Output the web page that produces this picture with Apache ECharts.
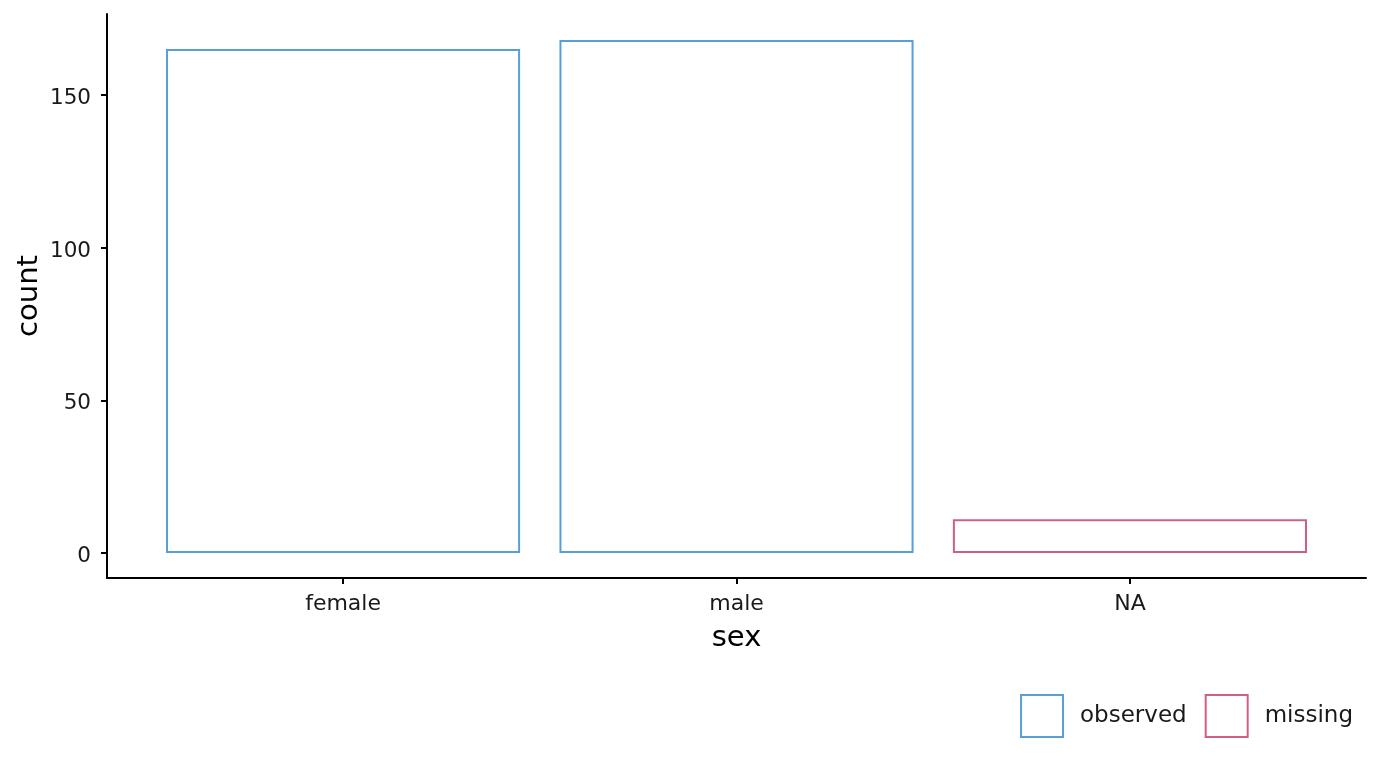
<!DOCTYPE html>
<html><head><meta charset="utf-8">
<script src="https://cdn.jsdelivr.net/npm/echarts@6/dist/echarts.min.js"></script>
<style>html,body{margin:0;padding:0;background:#fff}#c{width:1382px;height:768px}</style>
</head><body><div id="c"></div>
<script>
const categories = ['female', 'male', 'NA'];
const counts = [165, 168, 11];
const status = ['observed', 'observed', 'missing'];
const yTicks = [0, 50, 100, 150];
const seriesNames = ['observed', 'missing'];
const colors = { observed: '#569FD9', missing: '#CD6087' };
const FONT = 'DejaVu Sans';

const chart = echarts.init(document.getElementById('c'), null, { renderer: 'canvas' });

const series = seriesNames.map(name => ({
  name: name,
  type: 'bar',
  barWidth: '90%',
  barGap: '-100%',
  data: categories.map((c, i) => status[i] === name ? [i, counts[i]] : [i, null]),
  itemStyle: { color: '#ffffff', borderColor: colors[name], borderWidth: 2 },
  emphasis: { disabled: true },
  animation: false
}));

chart.setOption({
  animation: false,
  textStyle: { fontFamily: FONT },
  grid: { left: 107, right: 16, top: 14, bottom: 190, containLabel: false, outerBoundsMode: 'none' },
  xAxis: {
    type: 'value', min: -0.6, max: 2.6,
    name: 'sex', nameLocation: 'middle', nameGap: 46,
    nameTextStyle: { fontSize: 29, color: '#000', fontFamily: FONT },
    axisLine: { show: true, onZero: false, lineStyle: { color: '#000', width: 2 } },
    axisTick: { show: true, length: 6, lineStyle: { color: '#000', width: 2 }, customValues: categories.map((c, i) => i) },
    axisLabel: { fontSize: 22, color: '#1a1a1a', margin: 15, fontFamily: FONT,
      customValues: categories.map((c, i) => i),
      formatter: v => categories[Math.round(v)] },
    splitLine: { show: false }
  },
  yAxis: {
    type: 'value', min: -8.2, max: 176.5,
    name: 'count', nameLocation: 'middle', nameGap: 63, nameRotate: 90,
    nameMoveOverlap: false,
    nameTextStyle: { fontSize: 29, color: '#000', fontFamily: FONT },
    axisLine: { show: true, onZero: false, lineStyle: { color: '#000', width: 2 } },
    axisTick: { show: true, length: 6, lineStyle: { color: '#000', width: 2 }, customValues: yTicks },
    axisLabel: { color: '#1a1a1a', margin: 16, fontFamily: FONT, customValues: yTicks,
      formatter: v => '{t|' + v + '}',
      rich: { t: { fontSize: 21.5, color: '#1a1a1a', fontFamily: FONT, padding: [7, 0, 0, 0] } } },
    splitLine: { show: false }
  },
  legend: {
    data: seriesNames,
    right: 24, bottom: 25,
    itemWidth: 42, itemHeight: 42, itemGap: 18,
    icon: 'rect',
    textStyle: { fontSize: 23, color: '#1a1a1a', fontFamily: FONT, padding: [0, 0, 0, 12] },
    selectedMode: false
  },
  series: series
});
</script></body></html>
